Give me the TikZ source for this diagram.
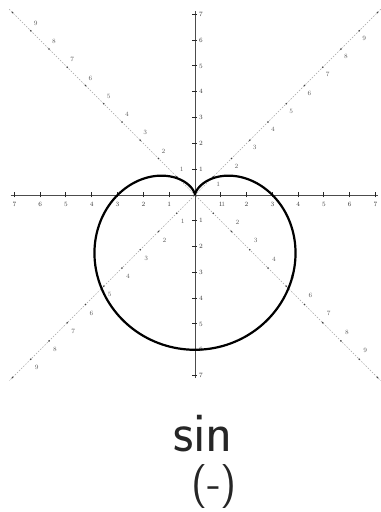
\documentclass[tikz,border=0pt]{standalone}
\begin{document}
\begin{tikzpicture}[x=25.8pt,y=25.8pt,
  axisline/.style={draw=black!70, line width=0.7pt},
  tickmark/.style={draw=black!85, line width=1pt},
  ticklabel/.style={font=\fontsize{6.5}{6.5}\selectfont, text=black!80, inner sep=0pt},
  diagline/.style={draw=black!35, line width=0.5pt, dash pattern=on 1.5pt off 1.5pt},
  diagdot/.style={fill=black!75, draw=none},
  diaglabel/.style={font=\fontsize{6.5}{6.5}\selectfont, text=black!65, inner sep=0pt},
  curve/.style={draw=black, line width=2.2pt},
  hand/.style={font=\sffamily, inner sep=0pt, text=black!85}]
\useasboundingbox (-7.558,-12.287) rectangle (7.171,7.558);
\fill[white] (-7.558,-12.287) rectangle (7.171,7.558);
% diagonal dotted lines
\coordinate (dTL) at (-7.2,7.2);
\coordinate (dBR) at (7.2,-7.2);
\coordinate (dTR) at (7.2,7.2);
\coordinate (dBL) at (-7.2,-7.2);
\draw[diagline] (dTL) -- (dBR);
\draw[diagline] (dTR) -- (dBL);
\foreach \k in {1,...,10}{
  \pgfmathsetmacro{\d}{\k/sqrt(2)}
  \fill[diagdot] (-\d,\d) circle (0.9pt);
  \fill[diagdot] (\d,\d) circle (0.9pt);
  \fill[diagdot] (-\d,-\d) circle (0.9pt);
  \fill[diagdot] (\d,-\d) circle (0.9pt);
}
\foreach \k in {1,...,9}{
  \pgfmathsetmacro{\d}{\k/sqrt(2)}
  \node[diaglabel] (tl\k) at ([xshift=5pt,yshift=7.5pt]-\d,\d) {\k};
  \node[diaglabel] (tr\k) at ([xshift=5pt,yshift=-7.5pt]\d,\d) {\k};
  \node[diaglabel] (bl\k) at ([xshift=6pt,yshift=-8.5pt]-\d,-\d) {\k};
}
\foreach \k in {2,...,9}{
  \pgfmathsetmacro{\d}{\k/sqrt(2)}
  \node[diaglabel] (br\k) at ([xshift=6pt,yshift=9pt]\d,-\d) {\k};
}
\node[diaglabel] (br1) at ([xshift=10pt,yshift=9pt]0.7071,-0.7071) {1};
% axes
\coordinate (xl) at (-7.15,0);
\coordinate (xr) at (7.1,0);
\coordinate (yt) at (0,7.15);
\coordinate (yb) at (0,-7.1);
\draw[axisline] (xl) -- (xr);
\draw[axisline] (yb) -- (yt);
\foreach \k in {1,...,7}{
  \draw[tickmark] (\k,-2.5pt) -- (\k,2.5pt);
  \draw[tickmark] (-\k,-2.5pt) -- (-\k,2.5pt);
  \draw[tickmark] (-2.5pt,\k) -- (2.5pt,\k);
  \draw[tickmark] (-2.5pt,-\k) -- (2.5pt,-\k);
  \node[ticklabel] (xp\k) at ([yshift=-9pt]\k,0) {\k};
  \node[ticklabel] (xn\k) at ([yshift=-9pt]-\k,0) {\k};
  \node[ticklabel] (yp\k) at ([xshift=6pt]0,\k) {\k};
  \node[ticklabel] (yn\k) at ([xshift=6pt]0,-\k) {\k};
}
% cardioid r = 3 - 3 sin(theta)
\draw[curve] plot[domain=0:360, samples=240, smooth]
  ({(3-3*sin(\x))*cos(\x)}, {(3-3*sin(\x))*sin(\x)});
% handwritten notes
\node[hand, font=\fontsize{56}{56}\selectfont\sffamily] (sinlabel) at (0.31,-9.25) {sin};
\node[hand, font=\fontsize{44}{44}\selectfont\sffamily] (signlabel) at (0.74,-11.3) {(-)};
\end{tikzpicture}
\end{document}
